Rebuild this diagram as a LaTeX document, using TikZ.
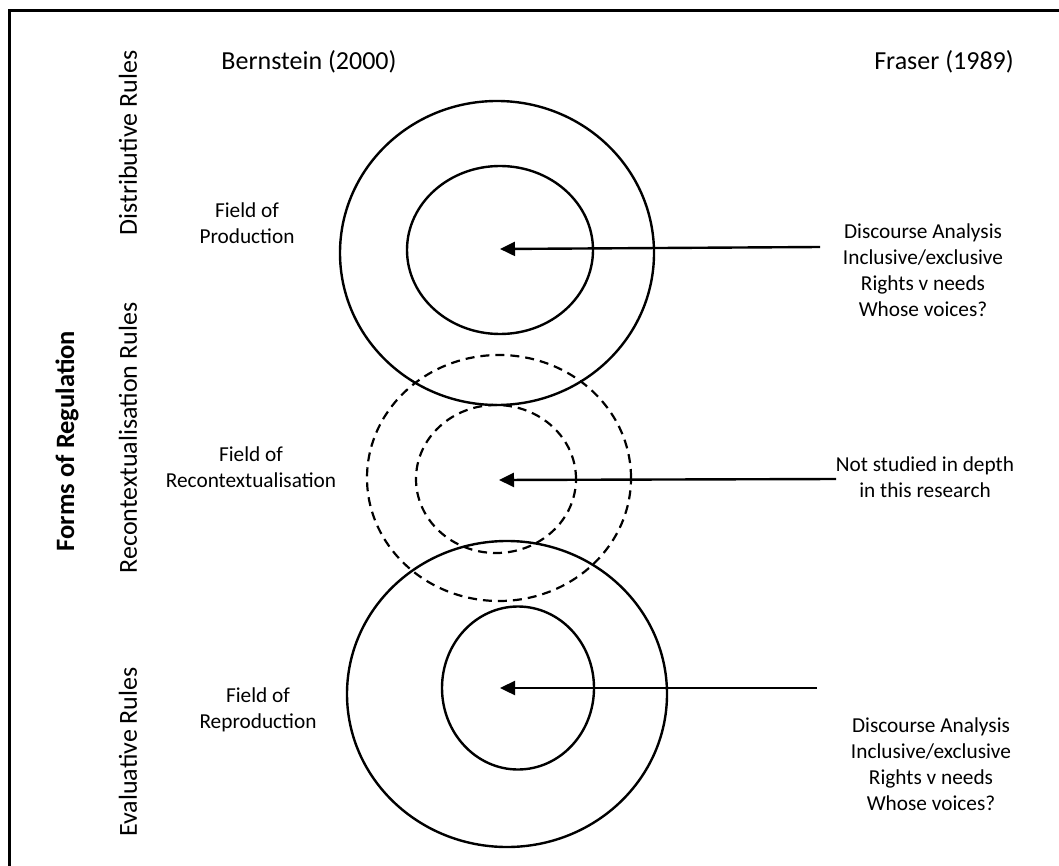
\documentclass[tikz,border=0pt]{standalone}
\usepackage{fontspec}
\setmainfont{Carlito}
\usetikzlibrary{shapes.geometric,arrows.meta}
\begin{document}
\begin{tikzpicture}[x=1pt,y=-1pt,
  ring/.style={draw,ellipse,line width=2.4pt,inner sep=0pt},
  dring/.style={ring,dash pattern=on 9pt off 6pt,line width=2.2pt},
  head/.style={font=\fontsize{26}{30}\selectfont},
  rule/.style={font=\fontsize{26}{30}\selectfont,rotate=90},
  lbl/.style={font=\fontsize{21.3}{25.8}\selectfont,align=center},
  arr/.style={line width=2.4pt,-{Triangle[length=15pt,width=14pt]}}]
\useasboundingbox (0,0) rectangle (1059,866);
\clip (0,0) rectangle (1059,866);
\draw[line width=3pt] (9,11) rectangle (1075,890);
% headings
\node[head] (bern) at (309,62) {Bernstein (2000)};
\node[head] (fras) at (944,62) {Fraser (1989)};
% rule labels
\node[rule] (dist) at (128,143) {Distributive Rules};
\node[rule] (recr) at (128,438) {Recontextualisation Rules};
\node[rule] (eval) at (128,752) {Evaluative Rules};
\node[rotate=90,font=\fontsize{26.5}{30}\selectfont\bfseries] (forms) at (67,441) {Forms of Regulation};
% field labels
\node[lbl] (fprod) at (247,223) {Field of\\Production};
\node[lbl] (frec) at (251,467) {Field of\\Recontextualisation};
\node[lbl] (frep) at (258,710) {Field of\\Reproduction};
% circles
\node[ring,minimum width=314pt,minimum height=304pt] (outtop) at (497,253) {};
\node[ring,minimum width=186pt,minimum height=168pt] (intop) at (500,250) {};
\node[dring,minimum width=264pt,minimum height=246pt] (outmid) at (499,478) {};
\node[dring,minimum width=160pt,minimum height=148pt] (inmid) at (496,479) {};
\node[ring,minimum width=320pt,minimum height=306pt] (outbot) at (507,694) {};
\node[ring,minimum width=152pt,minimum height=163pt] (inbot) at (518,688) {};
% right texts
\node[lbl] (ttop) at (923,270) {Discourse Analysis\\Inclusive/exclusive\\Rights v needs\\Whose voices?};
\node[lbl] (tmid) at (925,477) {Not studied in depth\\in this research};
\node[lbl] (tbot) at (931,764) {Discourse Analysis\\Inclusive/exclusive\\Rights v needs\\Whose voices?};
% arrows
\coordinate (s1) at (820,247);
\coordinate (e1) at (500,249);
\coordinate (s2) at (836,479);
\coordinate (e2) at (499,480);
\coordinate (s3) at (817,688);
\coordinate (e3) at (500,688);
\draw[arr] (s1) -- (e1);
\draw[arr] (s2) -- (e2);
\draw[arr] (s3) -- (e3);
\end{tikzpicture}
\end{document}
